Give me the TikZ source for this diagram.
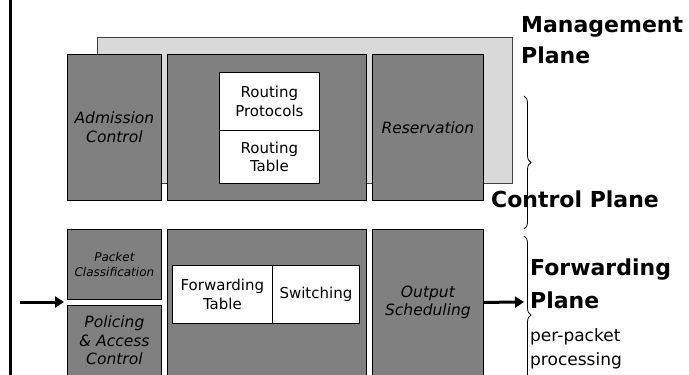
\documentclass[tikz,border=0pt]{standalone}
\usepackage{fontspec}
\setmainfont{DejaVu Sans}
\usetikzlibrary{arrows.meta}
\usetikzlibrary{decorations.pathreplacing}
\definecolor{boxgray}{HTML}{808080}
\definecolor{mgmtgray}{HTML}{D9D9D9}
\tikzset{
  block/.style={draw=black, fill=boxgray, line width=0.8pt, anchor=north west,
    inner sep=0pt, align=center, font=\itshape\fontsize{15.5}{18.5}\selectfont},
  smallblock/.style={block, font=\itshape\fontsize{12}{15}\selectfont},
  tablebox/.style={draw=black, fill=white, line width=0.8pt, anchor=north west,
    inner sep=0pt, align=center, font=\fontsize{15}{18.5}\selectfont},
  planelabel/.style={anchor=base west, inner sep=0pt, font=\bfseries\fontsize{22}{26}\selectfont},
  notelabel/.style={anchor=base west, inner sep=0pt, font=\fontsize{17}{20}\selectfont},
  bigarrow/.style={line width=3pt, -{Triangle[length=9pt,width=11pt]}},
  brace/.style={decorate, decoration={brace, amplitude=7pt}, line width=0.8pt}
}
\begin{document}
\begin{tikzpicture}[x=1pt,y=-1pt]
\useasboundingbox (0,0) rectangle (689,375);
\clip (0,0) rectangle (689,375);
\coordinate (ctltop) at (524,96);
\coordinate (ctlbot) at (524,229);
\coordinate (fwdtop) at (524,236);
\coordinate (fwdbot) at (524,394);
\coordinate (instart) at (20,302);
\coordinate (inend) at (64,302);
\coordinate (outend) at (524,302);
\begin{scope}
% draws left rule
\draw[line width=3pt] (10,0) -- (10,375);
% draws management plane
\node[draw=black!75, fill=mgmtgray, line width=0.8pt, anchor=north west, minimum width=415pt, minimum height=146pt] (mgmt) at (97,37) {};
% draws control plane blocks
\node[block, minimum width=94pt, minimum height=146pt] (adm) at (67,54) {Admission\\Control};
\node[block, minimum width=199pt, minimum height=146pt] (route) at (167,54) {};
\node[block, minimum width=111pt, minimum height=146pt] (resv) at (372,54) {Reservation};
\node[tablebox, minimum width=100pt, minimum height=58pt] (rproto) at (219,72) {Routing\\Protocols};
\node[tablebox, minimum width=100pt, minimum height=53pt] (rtable) at (219,130) {Routing\\Table};
% draws forwarding plane blocks
\node[smallblock, minimum width=94pt, minimum height=70pt] (pktcls) at (67,229) {Packet\\Classification};
\node[block, minimum width=94pt, minimum height=70pt] (police) at (67,305) {Policing\\\& Access\\Control};
\node[block, minimum width=199pt, minimum height=146pt] (fwd) at (167,229) {};
\node[block, minimum width=111pt, minimum height=146pt] (outsched) at (372,229) {Output\\Scheduling};
\node[tablebox, minimum width=100pt, minimum height=58pt] (ftable) at (172,265) {Forwarding\\Table};
\node[tablebox, minimum width=87pt, minimum height=58pt] (switch) at (272,265) {Switching};
% labels planes
\node[planelabel] (mlbl1) at (521,32) {Management};
\node[planelabel] (mlbl2) at (521,63) {Plane};
\node[planelabel] (clbl) at (491,207) {Control Plane};
\node[planelabel] (flbl1) at (530,275) {Forwarding};
\node[planelabel] (flbl2) at (530,308) {Plane};
\node[notelabel] (nlbl1) at (530,341) {per-packet};
\node[notelabel] (nlbl2) at (530,365) {processing};
% draws braces and arrows
\draw[brace] (ctltop) -- (ctlbot);
\draw[brace] (fwdtop) -- (fwdbot);
\draw[bigarrow] (instart) -- (inend);
\draw[bigarrow] (outsched.east) -- (outend);
\end{scope}
\end{tikzpicture}
\end{document}
